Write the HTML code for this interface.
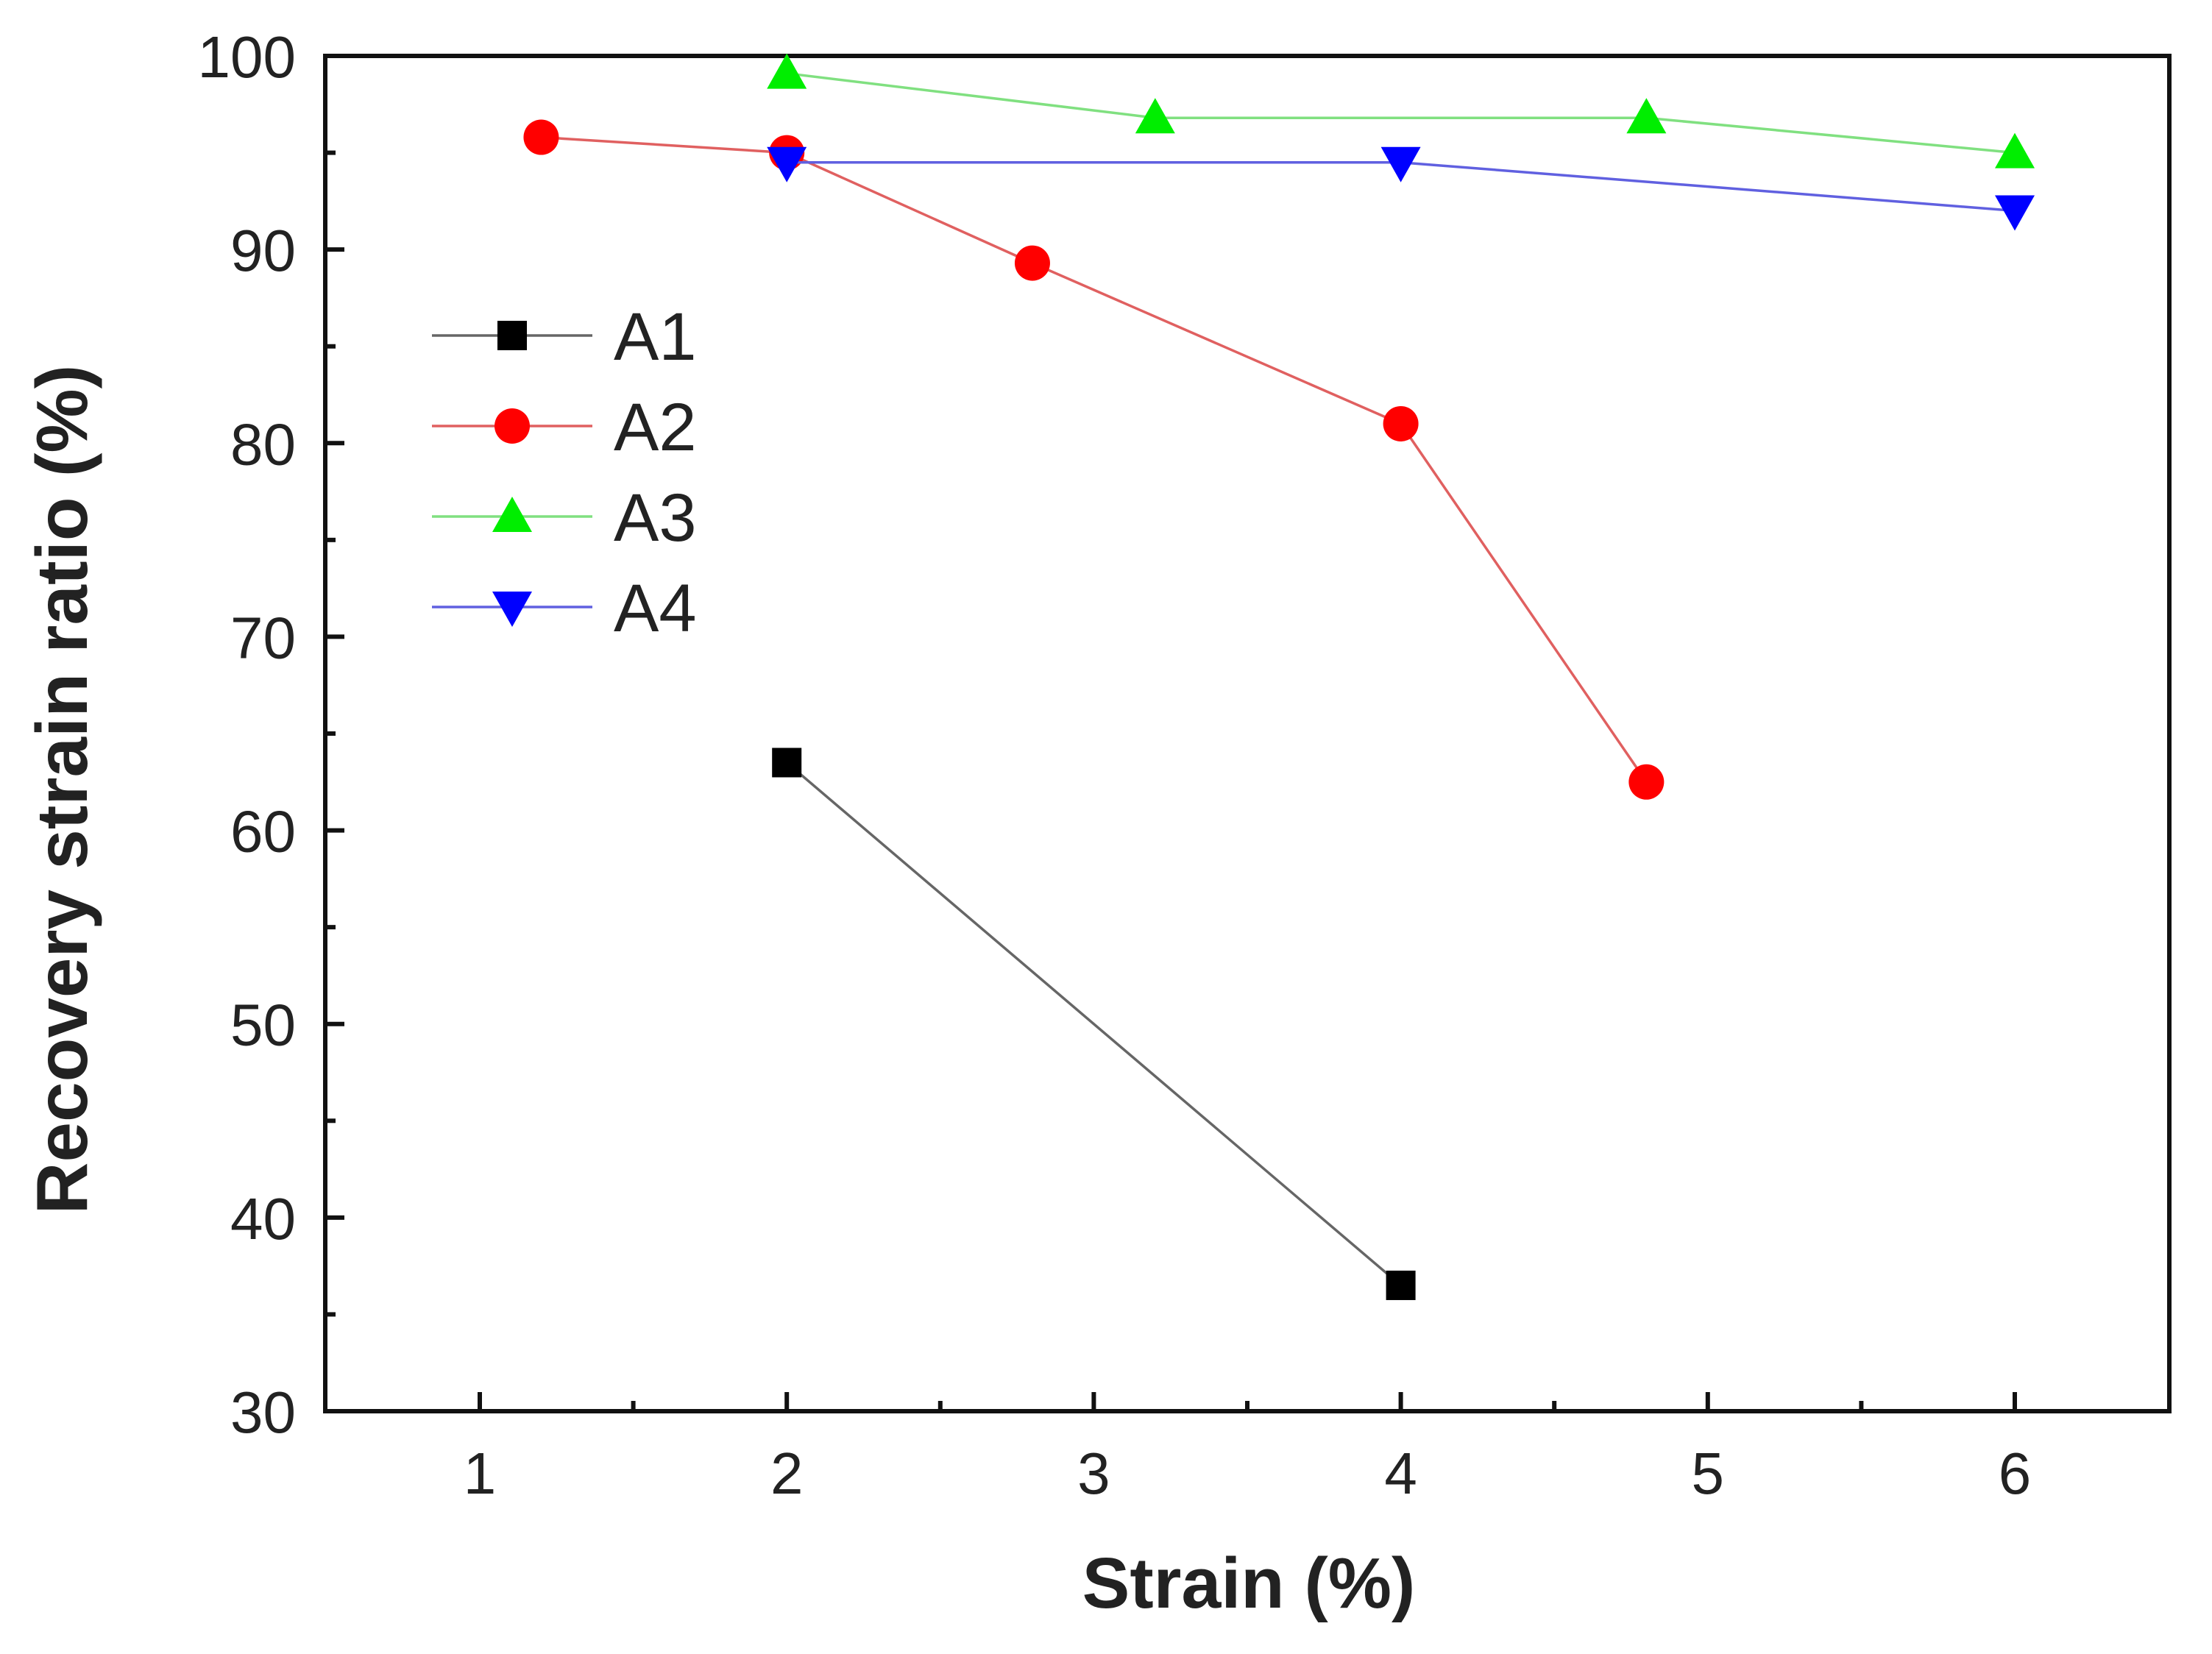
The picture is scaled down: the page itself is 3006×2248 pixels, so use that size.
<!DOCTYPE html>
<html><head><meta charset="utf-8"><style>
html,body{margin:0;padding:0;background:#fff;}
svg{display:block;font-family:"Liberation Sans",Arial,sans-serif;}
</style></head><body>
<svg id="chart" width="3006" height="2248" viewBox="0 0 3006 2248">
<rect x="0" y="0" width="3006" height="2248" fill="#fff"/>
<g id="plot"></g>
<text x="1697" y="2185" text-anchor="middle" font-size="97" font-weight="bold" fill="#222">Strain (%)</text>
<text transform="translate(118,1073) rotate(-90)" text-anchor="middle" font-size="98" font-weight="bold" fill="#222">Recovery strain ratio (%)</text>
</svg>
<script>
const xTicks = [1, 2, 3, 4, 5, 6];
const yTicks = [30, 40, 50, 60, 70, 80, 90, 100];
const seriesNames = ["A1", "A2", "A3", "A4"];
const a1X = [2, 4];
const a1Y = [63.5, 36.5];
const a2X = [1.2, 2, 2.8, 4, 4.8];
const a2Y = [95.8, 95, 89.3, 81, 62.5];
const a3X = [2, 3.2, 4.8, 6];
const a3Y = [99.1, 96.8, 96.8, 95];
const a4X = [2, 4, 6];
const a4Y = [94.5, 94.5, 92];

const L=442, R=2948, T=76, B=1918;
const sx = v => 652 + (v-1)*417.2;
const sy = v => B - (v-30)*(B-T)/70;
const NS="http://www.w3.org/2000/svg";
const g=document.getElementById('plot');
function mk(tag, attrs, parent){const e=document.createElementNS(NS,tag);for(const k in attrs)e.setAttribute(k,attrs[k]);(parent||g).appendChild(e);return e;}

const frame=mk('rect',{x:L,y:T,width:R-L,height:B-T,fill:'none',stroke:'#111','stroke-width':6});



for(let v=1; v<=6.001; v+=0.5){
  const major = Math.abs(v-Math.round(v))<1e-6;
  const t=mk('line',{x1:sx(v),x2:sx(v),y1:B,y2:B-(major?26:14),stroke:'#111','stroke-width':6});
  
  
}
xTicks.forEach(v=>{
  const t=mk('text',{x:sx(v),y:2030,'text-anchor':'middle','font-size':80,fill:'#222'});
  t.textContent=v;
  
  
});
for(let v=30; v<=100; v+=5){
  const major = v%10===0;
  const t=mk('line',{x1:L,x2:L+(major?26:14),y1:sy(v),y2:sy(v),stroke:'#111','stroke-width':6});
  
  
}
yTicks.forEach(v=>{
  const t=mk('text',{x:402,y:sy(v)+29,'text-anchor':'end','font-size':80,fill:'#222'});
  t.textContent=v;
  
  
});

function marker(shape,cx,cy,color,parent){
  let e;
  if(shape==='square') e=mk('rect',{x:cx-20,y:cy-20,width:40,height:40,fill:color},parent);
  else if(shape==='circle') e=mk('circle',{cx:cx,cy:cy,r:24,fill:color},parent);
  else if(shape==='up') e=mk('polygon',{points:`${cx},${cy-27} ${cx+27},${cy+21} ${cx-27},${cy+21}`,fill:color},parent);
  else e=mk('polygon',{points:`${cx},${cy+27} ${cx+27},${cy-21} ${cx-27},${cy-21}`,fill:color},parent);
  return e;
}
const series=[
  {name:seriesNames[0],xs:a1X,ys:a1Y,line:'#666',col:'#000',shape:'square'},
  {name:seriesNames[1],xs:a2X,ys:a2Y,line:'#e06060',col:'#f00',shape:'circle'},
  {name:seriesNames[2],xs:a3X,ys:a3Y,line:'#80e080',col:'#0e0',shape:'up'},
  {name:seriesNames[3],xs:a4X,ys:a4Y,line:'#6060e0',col:'#00f',shape:'down'}
];
series.forEach((s,i)=>{
  const sg=mk('g',{});
  
  
  const pts=s.xs.map((x,j)=>sx(x)+','+sy(s.ys[j])).join(' ');
  const pl=mk('polyline',{points:pts,fill:'none',stroke:s.line,'stroke-width':3.5},sg);
  
  
  s.xs.forEach((x,j)=>{
    const m=marker(s.shape,sx(x),sy(s.ys[j]),s.col,sg);
    
    
  });
  const ly=456+i*123;
  const lg=mk('g',{});
  
  
  mk('line',{x1:587,x2:805,y1:ly,y2:ly,stroke:s.line,'stroke-width':3.5},lg);
  marker(s.shape,696,ly,s.col,lg);
  const t=mk('text',{x:834,y:ly+33,'font-size':92,fill:'#222'},lg);
  t.textContent=s.name;
});
</script>
</body></html>
